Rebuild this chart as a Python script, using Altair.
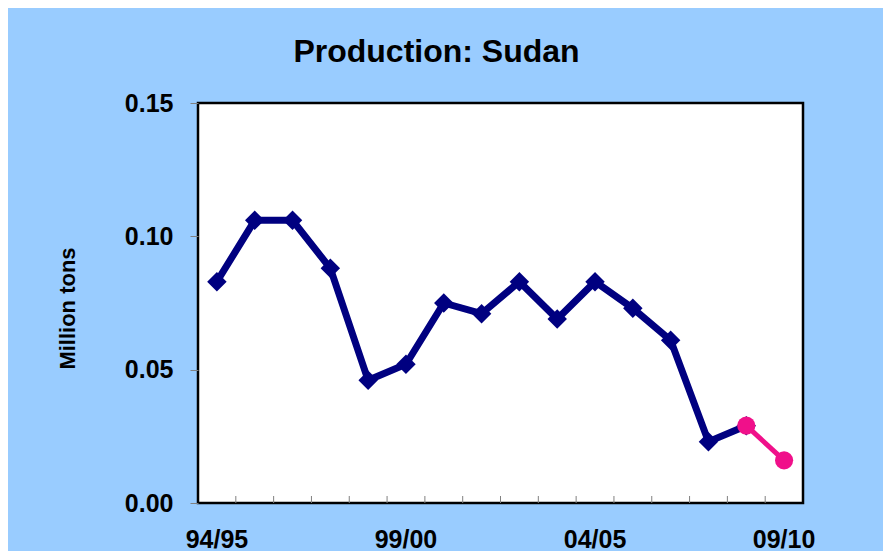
import altair as alt
import pandas as pd

seasons = ["94/95", "95/96", "96/97", "97/98", "98/99", "99/00", "00/01", "01/02",
           "02/03", "03/04", "04/05", "05/06", "06/07", "07/08", "08/09", "09/10"]
actual = [0.083, 0.106, 0.106, 0.088, 0.046, 0.052, 0.075, 0.071,
          0.083, 0.069, 0.083, 0.073, 0.061, 0.023, 0.029]
projected_seasons = ["08/09", "09/10"]
projected = [0.029, 0.016]
label_seasons = ["94/95", "99/00", "04/05", "09/10"]

df_a = pd.DataFrame({"season": seasons[:len(actual)], "value": actual})
df_p = pd.DataFrame({"season": projected_seasons, "value": projected})
df_t = pd.DataFrame({"season": seasons[1:]})

FONT = "Liberation Sans"

x_axis = alt.Axis(values=label_seasons, title=None, ticks=False, domain=False,
                  bandPosition=0.5,
                  labelAngle=0, labelFont=FONT, labelFontSize=25,
                  labelFontWeight="bold", labelColor="black", labelPadding=24)
x_scale = alt.Scale(domain=seasons, paddingInner=0, paddingOuter=0)
x_enc = alt.X("season:N", sort=seasons, scale=x_scale, axis=x_axis)
y_enc = alt.Y("value:Q", scale=alt.Scale(domain=[0, 0.15], nice=False),
              axis=alt.Axis(values=[0, 0.05, 0.10, 0.15], format=".2f",
                            title="Million tons", titleFont=FONT, titleFontSize=22,
                            titleFontWeight="bold", titleColor="black", titlePadding=45,
                            titleY=205,
                            labelFont=FONT, labelFontSize=25, labelFontWeight="bold",
                            labelColor="black", labelPadding=17, tickSize=8,
                            tickColor="#808080", tickWidth=1, domain=False, grid=False))

navy_line = alt.Chart(df_a).mark_line(color="#000080", strokeWidth=7).encode(x=x_enc, y=y_enc)
navy_pts = alt.Chart(df_a).mark_point(shape="diamond", filled=True, size=380,
                                      color="#000080", opacity=1).encode(x=x_enc, y=y_enc)
pink_line = alt.Chart(df_p).mark_line(color="#F0108A", strokeWidth=5).encode(x=x_enc, y=y_enc)
pink_pts = alt.Chart(df_p).mark_point(shape="circle", filled=True, size=330,
                                      color="#F0108A", opacity=1).encode(x=x_enc, y=y_enc)
ticks = alt.Chart(df_t).mark_rule(color="#808080", strokeWidth=1).encode(
    x=alt.X("season:N", sort=seasons, scale=x_scale, axis=x_axis, bandPosition=0),
    y=alt.value(400), y2=alt.value(393))

chart = alt.layer(navy_line, navy_pts, pink_line, pink_pts, ticks).properties(
    width=605, height=400,
    title=alt.TitleParams("Production: Sudan", font=FONT, fontSize=32, fontWeight="bold",
                          color="black", anchor="middle", dx=-64, offset=22),
    background="#99CCFF",
    autosize=alt.AutoSizeParams(type="none"),
    padding={"left": 190, "top": 95, "right": 80, "bottom": 48},
).configure_view(fill="white", stroke="black", strokeWidth=2.5)

chart.save("out.html", embed_options={"renderer": "svg", "actions": False})
